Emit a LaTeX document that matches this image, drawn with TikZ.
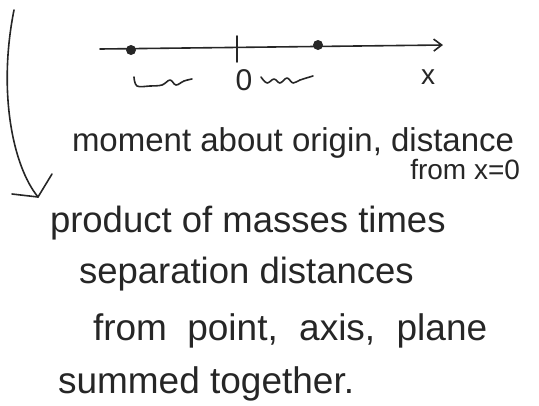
\documentclass[tikz,border=0pt]{standalone}
\usepackage{fontspec}
\setmainfont{Liberation Sans}
\usetikzlibrary{arrows.meta}
\begin{document}
\begin{tikzpicture}[x=1pt,y=-1pt,
  ink/.style={line width=1.6pt,line cap=round,line join=round,black!85},
  txt/.style={inner sep=0pt,outer sep=0pt,text=black!85},
  massdot/.style={circle,fill=black!85,inner sep=0pt,minimum size=10pt}]
\useasboundingbox (0,0) rectangle (539,405);
% axis
\coordinate (axL) at (100,49);
\coordinate (axR) at (443,45);
\draw[ink,-{Straight Barb[length=8pt,width=12pt]}] (axL) -- (axR);
\node[massdot] (m1) at (131,50) {};
\node[massdot] (m2) at (318,45) {};
\coordinate (tkT) at (237,36);
\coordinate (tkB) at (237,62);
\draw[ink] (tkT) -- (tkB);
% squiggles
\draw[ink] plot[smooth,tension=0.6] coordinates {(134,77) (137,86) (150,86) (162,85) (170,80) (176,85) (184,81) (192,79)};
\draw[ink] plot[smooth,tension=0.6] coordinates {(261,77) (267,83) (274,79) (280,83) (287,78) (293,83) (300,80) (313,76)};
\node[txt,font=\fontsize{30}{30}\selectfont] (zero) at (244,80) {0};
\node[txt,font=\fontsize{28}{28}\selectfont] (xl) at (428,77) {x};
% top text
\node[txt,anchor=base west,font=\fontsize{33}{33}\selectfont] (t1) at (72,151) {moment about origin, distance};
\node[txt,anchor=base east,font=\fontsize{28}{28}\selectfont] (t2) at (520,179) {from x=0};
% curved arrow
\coordinate (aS) at (14,10);
\coordinate (aT) at (38,197);
\coordinate (b1) at (12,194);
\coordinate (b2) at (52,174);
\draw[ink] (aS) .. controls (-2,90) and (12,165) .. (aT);
\draw[ink] (b1) -- (aT) -- (b2);
% lower text
\node[txt,anchor=base west,font=\fontsize{36.5}{36.5}\selectfont] (l1) at (50,232) {product of masses times};
\node[txt,anchor=base west,font=\fontsize{36.5}{36.5}\selectfont] (l2) at (79,283) {separation distances};
\node[txt,anchor=base west,font=\fontsize{37}{37}\selectfont] (l3) at (93,340) {from\hspace{0.55em}point,\hspace{0.3em} axis,\hspace{0.3em} plane};
\node[txt,anchor=base west,font=\fontsize{37}{37}\selectfont] (l4) at (58,393) {summed together.};
\end{tikzpicture}
\end{document}
